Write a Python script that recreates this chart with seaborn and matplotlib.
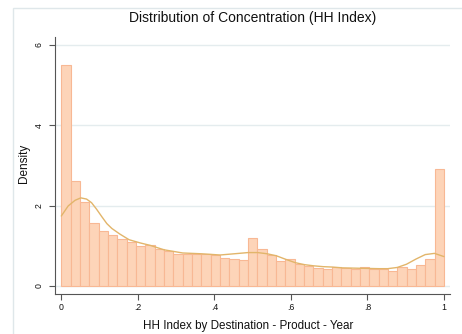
import numpy as np
import pandas as pd
import matplotlib
matplotlib.use("Agg")
import matplotlib.pyplot as plt
import seaborn as sns
from matplotlib.patches import Rectangle

# ---- data ----
n_bins = 41
density = [5.49, 2.61, 2.09, 1.56, 1.37, 1.27, 1.16, 1.10, 0.99, 1.03,
           0.91, 0.87, 0.80, 0.79, 0.80, 0.79, 0.77, 0.69, 0.66, 0.64,
           1.18, 0.93, 0.76, 0.62, 0.66, 0.54, 0.50, 0.44, 0.42, 0.48,
           0.44, 0.42, 0.48, 0.43, 0.42, 0.38, 0.48, 0.42, 0.51, 0.68,
           2.90]
kde_x = [0.0, 0.018, 0.036, 0.051, 0.066, 0.079, 0.092, 0.106, 0.119, 0.132,
         0.153, 0.177, 0.206, 0.232, 0.268, 0.317, 0.366, 0.415, 0.464, 0.488,
         0.513, 0.538, 0.562, 0.587, 0.611, 0.635, 0.66, 0.684, 0.708, 0.733,
         0.78, 0.83, 0.853, 0.878, 0.902, 0.927, 0.951, 0.975, 1.0]
kde_y = [1.74, 1.99, 2.13, 2.19, 2.16, 2.07, 1.91, 1.72, 1.55, 1.43,
         1.29, 1.15, 1.07, 1.01, 0.90, 0.82, 0.80, 0.77, 0.81, 0.83,
         0.83, 0.80, 0.75, 0.66, 0.58, 0.53, 0.50, 0.48, 0.47, 0.45,
         0.44, 0.43, 0.43, 0.46, 0.54, 0.67, 0.78, 0.81, 0.73]
xticks = [0, 0.2, 0.4, 0.6, 0.8, 1.0]
xtick_labels = ["0", ".2", ".4", ".6", ".8", "1"]
yticks = [0, 2, 4, 6]
ytick_labels = ["0", "2", "4", "6"]
title = "Distribution of Concentration (HH Index)"
xlabel = "HH Index by Destination - Product - Year"
ylabel = "Density"

sns.set_theme(style="white")
plt.rcParams["font.family"] = ["Liberation Sans", "DejaVu Sans"]

edges = np.linspace(0, 1, n_bins + 1)
centers = (edges[:-1] + edges[1:]) / 2
df = pd.DataFrame({"hh": centers, "density": density})
kde = pd.DataFrame({"x": kde_x, "y": kde_y})

W, H = 462, 334
fig = plt.figure(figsize=(W / 100, H / 100), dpi=100)
ax = fig.add_axes([55 / W, 40 / H, 395 / W, 257 / H])

ax.set_axisbelow(True)
ax.yaxis.grid(True, color="#e4ecee", lw=1.0)
ax.xaxis.grid(False)

sns.histplot(data=df, x="hh", weights="density", bins=n_bins, binrange=(0, 1),
             stat="count", color="#fdd4b8", edgecolor="#f8b894",
             linewidth=0.8, alpha=1.0, ax=ax)
sns.lineplot(data=kde, x="x", y="y", color="#e2b56a", lw=1.0, ax=ax)

ax.set_xlim(-0.0165, 1.0157)
ax.set_ylim(-0.2, 6.19)
ax.set_xticks(xticks)
ax.set_xticklabels(xtick_labels, fontsize=6.3, color="#111111")
ax.set_yticks(yticks)
ax.set_yticklabels(ytick_labels, fontsize=6.3, color="#111111", rotation=90, va="center")
ax.tick_params(axis="x", which="major", length=4, width=0.8, color="#555555",
               direction="out", bottom=True, pad=2.5)
ax.tick_params(axis="y", which="major", length=4.5, width=0.8, color="#555555",
               direction="out", left=True, pad=3.5)
for s in ["top", "right"]:
    ax.spines[s].set_visible(False)
for s in ["left", "bottom"]:
    ax.spines[s].set_color("#555555")
    ax.spines[s].set_linewidth(0.8)

ax.set_xlabel(xlabel, fontsize=8.4, color="#111111", va="center")
ax.xaxis.set_label_coords((248 - 55) / 395, (294 - 326) / 257)
ax.set_ylabel(ylabel, fontsize=8.5, color="#111111", va="center")
ax.yaxis.set_label_coords((24 - 55) / 395, (294 - 163) / 257)
fig.text(253 / W, 1 - 18 / H, title, ha="center", va="center",
         fontsize=10, color="#111111")

fig.add_artist(Rectangle((13 / W, -0.1), 1.2, (H - 8) / H + 0.1,
                         transform=fig.transFigure, fill=False,
                         ec="#dfe7ea", lw=1.0))

fig.savefig("out.png", dpi=100)
